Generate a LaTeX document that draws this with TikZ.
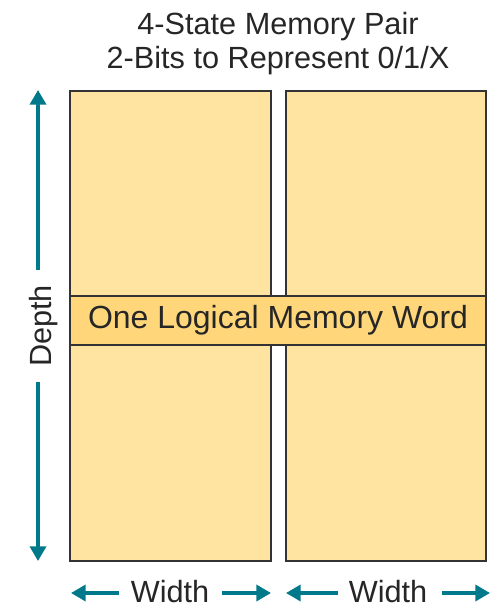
\documentclass[tikz,border=0pt]{standalone}
\usepackage{fontspec}
\setmainfont{Liberation Sans}
\usetikzlibrary{arrows.meta}
\definecolor{cellfill}{HTML}{FFE3A0}
\definecolor{wordfill}{HTML}{FFD77A}
\definecolor{edge}{HTML}{333333}
\definecolor{teal}{HTML}{007A8A}
\definecolor{ink}{HTML}{262626}
\tikzset{
  bank/.style={draw=edge, line width=2.2pt, fill=cellfill, inner sep=0pt},
  wordbox/.style={draw=edge, line width=2.2pt, fill=wordfill, inner sep=0pt, text=ink,
    font=\fontsize{24}{28}\selectfont},
  dim/.style={draw=teal, line width=2.6pt, -{Triangle[length=11pt,width=12pt]}},
  lbl/.style={text=ink, font=\fontsize{23}{27}\selectfont, inner sep=0pt},
}
\begin{document}
\begin{tikzpicture}[x=0.75pt,y=-0.75pt]
  \useasboundingbox (0,0) rectangle (503,607);
  % title
  \node[lbl, anchor=base] (t1) at (278,34.3) {4-State Memory Pair};
  \node[lbl, anchor=base] (t2) at (278,68.3) {2-Bits to Represent 0/1/X};
  % two memory banks
  \draw[bank] (70,91) rectangle (271,561);
  \draw[bank] (286,91) rectangle (486,561);
  % one word across both banks
  \node[wordbox, minimum width=416*0.75pt, minimum height=49*0.75pt] (word) at (278,320.5)
    {One Logical Memory Word};
  % depth dimension
  \node[lbl, rotate=90, anchor=base] (depth) at (51.5,326) {Depth};
  \coordinate (dtop) at (38,90);
  \coordinate (dbot) at (38,561);
  \draw[dim] (38,270) -- (dtop);
  \draw[dim] (38,382) -- (dbot);
  % width dimensions
  \node[lbl, anchor=base] (w1) at (170,602.5) {Width};
  \node[lbl, anchor=base] (w2) at (388,602.5) {Width};
  \coordinate (w1l) at (71,593);
  \coordinate (w1r) at (271,593);
  \coordinate (w2l) at (286,593);
  \coordinate (w2r) at (490,593);
  \draw[dim] (119,593) -- (w1l);
  \draw[dim] (222,593) -- (w1r);
  \draw[dim] (338,593) -- (w2l);
  \draw[dim] (442,593) -- (w2r);
\end{tikzpicture}
\end{document}
